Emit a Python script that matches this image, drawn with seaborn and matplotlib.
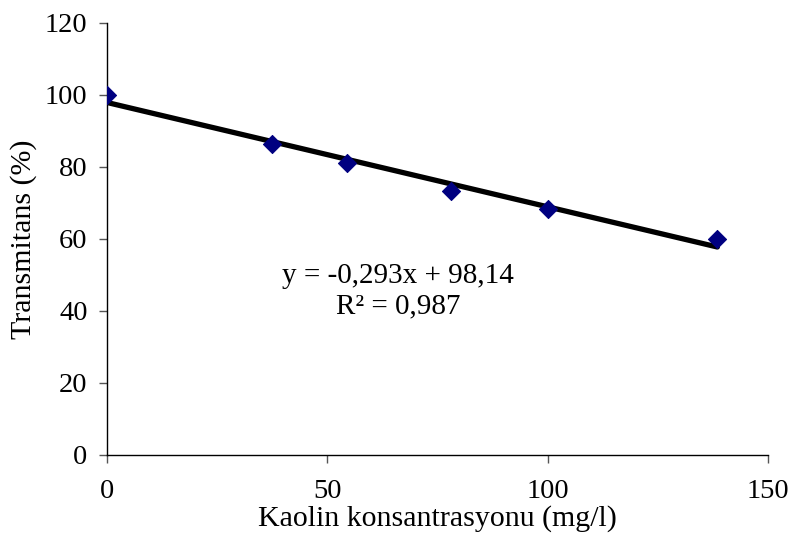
import numpy as np
import pandas as pd
import matplotlib
matplotlib.use("Agg")
import matplotlib.pyplot as plt
import seaborn as sns

# data
kaolin = [0, 37.5, 54.5, 78, 100, 138.5]
transmitans = [100, 86.5, 81.2, 73.2, 68.2, 60]
x_ticks = [0, 50, 100, 150]
y_ticks = [0, 20, 40, 60, 80, 100, 120]
equation_text = "y = -0,293x + 98,14\nR\u00b2 = 0,987"

df = pd.DataFrame({"kaolin": kaolin, "transmitans": transmitans})

sns.set_theme(style="ticks")
plt.rcParams["font.family"] = ["Liberation Serif", "DejaVu Serif"]
plt.rcParams["text.color"] = "black"
plt.rcParams["axes.labelcolor"] = "black"

fig = plt.figure(figsize=(7.93, 5.41), dpi=100)
ax = fig.add_axes([0.135, 0.159, 0.8335, 0.7985])

sns.regplot(data=df, x="kaolin", y="transmitans", ax=ax, ci=None,
            scatter=False, line_kws=dict(color="black", lw=3.8, zorder=2))
sns.scatterplot(data=df, x="kaolin", y="transmitans", ax=ax, marker="D",
                color="#000080", s=85, edgecolor="#000080", zorder=3)

ax.set_xlim(0, 150)
ax.set_ylim(0, 120)
ax.set_xticks(x_ticks)
ax.set_yticks(y_ticks)
ax.set_xticklabels([str(v) for v in x_ticks])
ax.set_yticklabels([str(v) for v in y_ticks])
ax.tick_params(axis="both", labelsize=20.5, length=6, width=1, color="#555555",
               labelcolor="black")
ax.tick_params(axis="x", pad=11)
ax.tick_params(axis="y", pad=8)
for s in ["top", "right"]:
    ax.spines[s].set_visible(False)
for s in ["left", "bottom"]:
    ax.spines[s].set_color("black")
    ax.spines[s].set_linewidth(1)

ax.set_xlabel("Kaolin konsantrasyonu (mg/l)", fontsize=21.5, labelpad=1)
ax.set_ylabel("Transmitans (%)", fontsize=21.5, labelpad=6)

ax.text(66, 45.5, equation_text, ha="center", va="center", fontsize=21,
        linespacing=1.2)

fig.savefig("out.png", dpi=100)
